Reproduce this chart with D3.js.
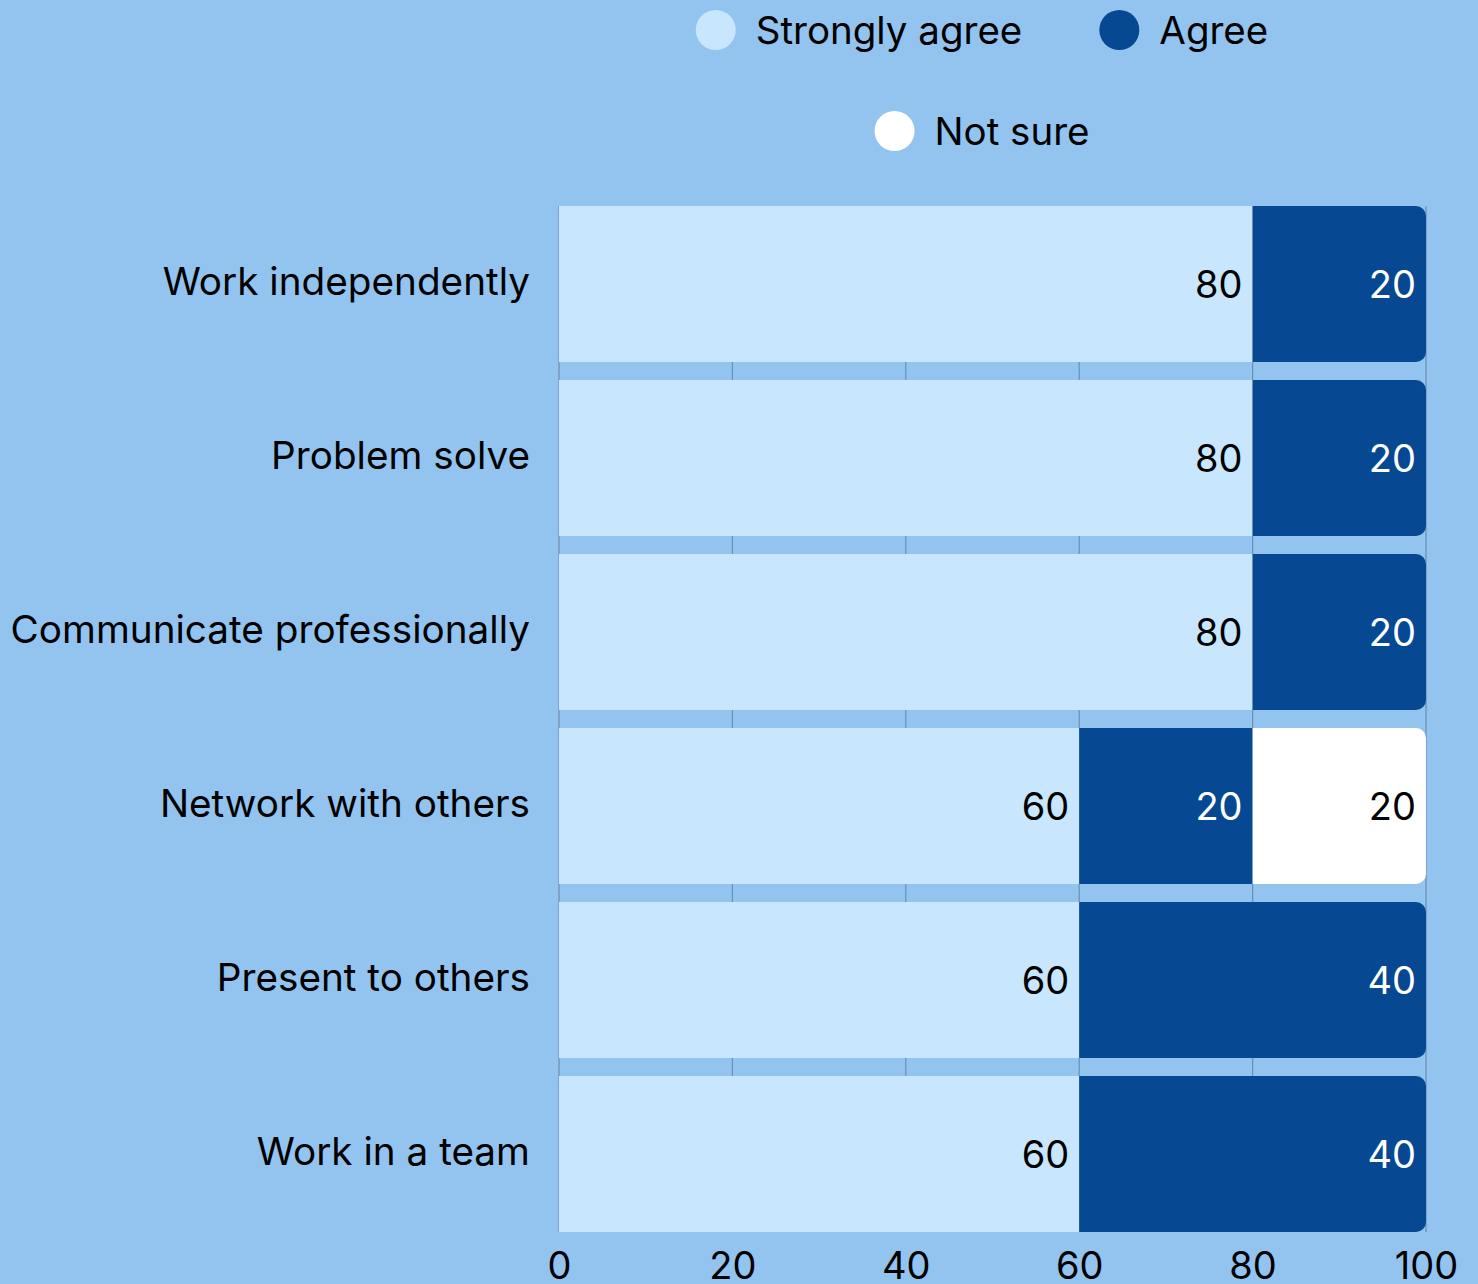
<!DOCTYPE html>
<html>
<head>
<meta charset="utf-8">
<script src="https://cdn.jsdelivr.net/npm/d3@7"></script>
<style>
  html, body { margin: 0; padding: 0; background: #93c4ef; }
  svg { display: block; }
</style>
</head>
<body>
<script>
const categories = [
  "Work independently",
  "Problem solve",
  "Communicate professionally",
  "Network with others",
  "Present to others",
  "Work in a team",
];
const seriesNames = ["Strongly agree", "Agree", "Not sure"];
const stronglyAgree = [80, 80, 80, 60, 60, 60];
const agree = [20, 20, 20, 20, 40, 40];
const notSure = [0, 0, 0, 20, 0, 0];
const xTicks = [0, 20, 40, 60, 80, 100];

const colors = ["#c8e6fd", "#064891", "#ffffff"];
const labelColors = ["#000", "#fff", "#000"];

const width = 1478;
const height = 1284;
const fontFamily = "Inter, 'Noto Sans', sans-serif";

const rows = categories.map((c, i) => ({
  category: c,
  values: [stronglyAgree[i], agree[i], notSure[i]],
}));

const stack = d3
  .stack()
  .keys([0, 1, 2])
  .value((d, k) => d.values[k]);
const series = stack(rows);

const xScale = d3.scaleLinear().domain([0, 100]).range([559, 1426]);
const yScale = d3
  .scaleBand()
  .domain(categories)
  .range([206, 1232])
  .paddingInner(0.1034)
  .paddingOuter(0);

const svg = d3
  .select("body")
  .append("svg")
  .attr("width", width)
  .attr("height", height)
  .attr("font-family", fontFamily);

svg
  .append("rect")
  .attr("width", width)
  .attr("height", height)
  .attr("fill", "#93c4ef");

// grid lines under the bars
svg
  .append("g")
  .selectAll("line")
  .data(xTicks)
  .join("line")
  .attr("x1", (d) => xScale(d))
  .attr("x2", (d) => xScale(d))
  .attr("y1", yScale.range()[0])
  .attr("y2", yScale.range()[1])
  .attr("stroke", "#6a8fb4")
  .attr("stroke-width", 1.2);

// last non-empty segment per row gets rounded right corners
const lastKey = rows.map((r) => {
  let k = 0;
  r.values.forEach((v, i) => {
    if (v > 0) k = i;
  });
  return k;
});

const r = 10;
const segPath = (x0, x1, y, h, rounded) => {
  if (!rounded) return `M${x0},${y}H${x1}V${y + h}H${x0}Z`;
  return `M${x0},${y}H${x1 - r}A${r},${r} 0 0 1 ${x1},${y + r}V${y + h - r}A${r},${r} 0 0 1 ${x1 - r},${y + h}H${x0}Z`;
};

const barGroup = svg.append("g");

series.forEach((s) => {
  const k = s.key;
  const segs = s
    .map((d, i) => ({ d, i }))
    .filter(({ d }) => d[1] - d[0] > 0);

  barGroup
    .append("g")
    .selectAll("path")
    .data(segs)
    .join("path")
    .attr("d", ({ d, i }) =>
      segPath(
        xScale(d[0]),
        xScale(d[1]),
        yScale(categories[i]),
        yScale.bandwidth(),
        lastKey[i] === k
      )
    )
    .attr("fill", colors[k]);

  barGroup
    .append("g")
    .selectAll("text")
    .data(segs)
    .join("text")
    .attr("x", ({ d }) => xScale(d[1]) - 10)
    .attr("y", ({ i }) => yScale(categories[i]) + yScale.bandwidth() / 2)
    .attr("dy", "0.36em")
    .attr("text-anchor", "end")
    .attr("font-size", 38)
    .attr("fill", labelColors[k])
    .text(({ d }) => d[1] - d[0]);
});

// category labels
svg
  .append("g")
  .selectAll("text")
  .data(categories)
  .join("text")
  .attr("x", 530)
  .attr("y", (d) => yScale(d) + yScale.bandwidth() / 2 - 3)
  .attr("dy", "0.36em")
  .attr("text-anchor", "end")
  .attr("font-size", 38.7)
  .attr("fill", "#000")
  .text((d) => d);

// x axis
const xAxis = d3
  .axisBottom(xScale)
  .tickValues(xTicks)
  .tickSize(0)
  .tickPadding(0);

const axisG = svg
  .append("g")
  .attr("transform", `translate(0 ${yScale.range()[1]})`)
  .call(xAxis);
axisG.select(".domain").remove();
axisG
  .selectAll("text")
  .attr("y", 47)
  .attr("dy", 0)
  .attr("font-size", 38)
  .attr("font-family", fontFamily)
  .attr("fill", "#000");

// legend
const legendRows = [[0, 1], [2]];
const legendY = [30, 131];
const legendCenter = 982;
const itemGap = 77;

legendRows.forEach((items, ri) => {
  const g = svg.append("g");
  const itemGroups = items.map((k) => {
    const ig = g.append("g");
    ig.append("circle").attr("r", 20).attr("cx", 20).attr("fill", colors[k]);
    const t = ig
      .append("text")
      .attr("x", 60)
      .attr("dy", "0.36em")
      .attr("font-size", 38.5)
      .attr("fill", "#000")
      .text(seriesNames[k]);
    return { ig, w: 60 + t.node().getComputedTextLength() };
  });
  const total =
    d3.sum(itemGroups, (d) => d.w) + itemGap * (itemGroups.length - 1);
  let x = legendCenter - total / 2;
  itemGroups.forEach(({ ig, w }) => {
    ig.attr("transform", `translate(${x} ${legendY[ri]})`);
    x += w + itemGap;
  });
});
</script>
</body>
</html>
